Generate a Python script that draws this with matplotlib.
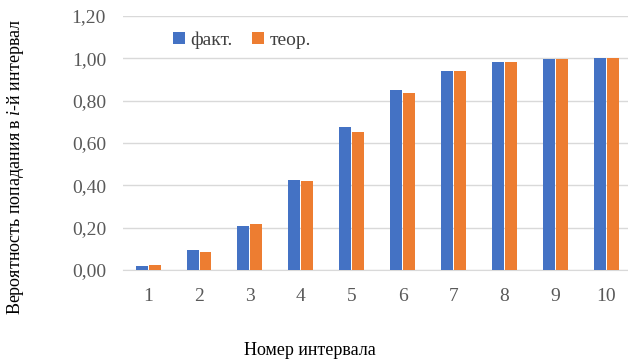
import matplotlib
matplotlib.use("Agg")
import matplotlib.pyplot as plt
import numpy as np

categories = ["1", "2", "3", "4", "5", "6", "7", "8", "9", "10"]
fact = [0.02, 0.094, 0.208, 0.424, 0.675, 0.849, 0.940, 0.981, 0.996, 1.0]
theor = [0.024, 0.084, 0.216, 0.420, 0.650, 0.835, 0.942, 0.984, 0.996, 1.0]
yticks = [0.0, 0.2, 0.4, 0.6, 0.8, 1.0, 1.2]
ytick_labels = ["0,00", "0,20", "0,40", "0,60", "0,80", "1,00", "1,20"]

plt.rcParams['font.family'] = ['Liberation Serif', 'DejaVu Serif']
plt.rcParams['mathtext.fontset'] = 'custom'
plt.rcParams['mathtext.rm'] = 'Liberation Serif'
plt.rcParams['mathtext.it'] = 'Liberation Serif:italic'

fig = plt.figure(figsize=(6.28, 3.59), dpi=100)
ax = fig.add_axes([0.1954, 0.2479, 0.8102, 0.7075])

x = np.arange(len(categories))
w = 0.235
gap = 0.02
ax.bar(x - w/2 - gap/2, fact, width=w, color="#4472C4", label="факт.", zorder=3)
ax.bar(x + w/2 + gap/2, theor, width=w, color="#ED7D31", label="теор.", zorder=3)

ax.set_xlim(-0.5, len(categories) - 0.5)
ax.set_ylim(0, 1.2)
ax.set_yticks(yticks)
ax.set_yticklabels(ytick_labels)
ax.set_xticks(x)
ax.set_xticklabels(categories)
ax.grid(axis="y", color="#D9D9D9", linewidth=1.0, zorder=0)
for s in ["top", "right", "left"]:
    ax.spines[s].set_visible(False)
ax.spines["bottom"].set_color("#D9D9D9")
ax.tick_params(axis="both", length=0, colors="#595959", labelsize=14)
ax.tick_params(axis="x", pad=13)
ax.tick_params(axis="y", pad=12)

fig.text(0.494, 0.025, "Номер интервала", fontsize=13, color="#000000",
         ha="center", va="center")
fig.text(0.024, 0.535, "Вероятность попадания в $\\mathit{i}$-й интервал", fontsize=13,
         rotation=90, ha="center", va="center")

leg = ax.legend(loc="center", bbox_to_anchor=(0.235, 0.905), ncol=2, frameon=False,
                fontsize=14, handlelength=0.6, handleheight=0.6, handletextpad=0.3,
                columnspacing=1.0)
for t in leg.get_texts():
    t.set_color("#404040")

fig.savefig("out.png", dpi=100)
